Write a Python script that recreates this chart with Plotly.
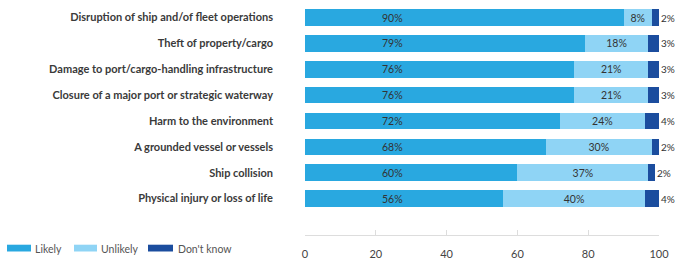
import plotly.graph_objects as go

categories = [
    "Disruption of ship and/of fleet operations",
    "Theft of property/cargo",
    "Damage to port/cargo-handling infrastructure",
    "Closure of a major port or strategic waterway",
    "Harm to the environment",
    "A grounded vessel or vessels",
    "Ship collision",
    "Physical injury or loss of life",
]
likely = [90, 79, 76, 76, 72, 68, 60, 56]
unlikely = [8, 18, 21, 21, 24, 30, 37, 40]
dont_know = [2, 3, 3, 3, 4, 2, 2, 4]
series_names = ["Likely", "Unlikely", "Don't know"]
x_ticks = [0, 20, 40, 60, 80, 100]

colors = ["#29a8e0", "#8fd4f5", "#1b4d9e"]
text_color = "#333333"
FONT = "Lato"

# plot geometry (pixels)
W, H = 677, 265
L, R, T, B = 305, 18, 5, 23
pw, ph = W - L - R, H - T - B
row0, row_step = 18.0, 26.64

def px_x(p):
    return (p - L) / pw

def px_y(p):
    return (H - B - p) / ph

y_top = (T - row0) / row_step
y_bot = (H - B - row0) / row_step

fig = go.Figure()
fig.add_trace(go.Bar(
    y=categories, x=likely, name=series_names[0], orientation="h",
    marker=dict(color=colors[0], line=dict(width=0)), showlegend=False,
))
fig.add_trace(go.Bar(
    y=categories, x=unlikely, name=series_names[1], orientation="h",
    marker=dict(color=colors[1], line=dict(width=0)), showlegend=False,
    text=[f"{v}%" for v in unlikely], textposition="inside",
    insidetextanchor="middle", textangle=0, constraintext="none",
    textfont=dict(family=FONT, size=10.5, color=text_color),
))
fig.add_trace(go.Bar(
    y=categories, x=dont_know, name=series_names[2], orientation="h",
    marker=dict(color=colors[2], line=dict(width=0)), showlegend=False,
))

annotations = []
for c, a, b, d in zip(categories, likely, unlikely, dont_know):
    annotations.append(dict(
        x=24.7, y=c, xref="x", yref="y", text=f"{a}%", showarrow=False,
        font=dict(family=FONT, size=10.5, color=text_color),
    ))
    annotations.append(dict(
        x=a + b + d, y=c, xref="x", yref="y", text=f"{d}%", showarrow=False,
        xanchor="left", xshift=0,
        font=dict(family=FONT, size=10, color=text_color),
    ))

# custom legend (wide swatches)
shapes = []
legend_items = [(7, 31, 33), (74, 97, 99), (148, 173, 176)]
for (x0, x1, tx), name, col in zip(legend_items, series_names, colors):
    shapes.append(dict(
        type="rect", xref="paper", yref="paper",
        x0=px_x(x0), x1=px_x(x1), y0=px_y(259), y1=px_y(252),
        fillcolor=col, line=dict(width=0),
    ))
    annotations.append(dict(
        x=px_x(tx), y=px_y(256), xref="paper", yref="paper",
        xanchor="left", yanchor="middle", text=name, showarrow=False,
        font=dict(family=FONT, size=10.5, color="#555555"),
    ))

fig.update_layout(
    width=W, height=H, barmode="stack", bargap=0.36,
    margin=dict(l=L, r=R, t=T, b=B, pad=0),
    paper_bgcolor="white", plot_bgcolor="white",
    font=dict(family=FONT, color=text_color),
    annotations=annotations, shapes=shapes,
    xaxis=dict(
        range=[0, 100], tickvals=x_ticks, showgrid=False, zeroline=False,
        showline=True, linecolor="#dddddd", linewidth=1,
        ticks="inside", ticklen=5, tickcolor="#dddddd",
        tickfont=dict(family=FONT, size=11, color="#444444"),
        ticklabelstandoff=9,
    ),
    yaxis=dict(
        categoryorder="array", categoryarray=categories,
        range=[y_bot, y_top], showgrid=False, zeroline=False, showline=False,
        ticks="", ticklabelstandoff=31,
        tickfont=dict(family=FONT, size=11, color="#3a3a3a", weight=700),
    ),
)

fig.write_html(
    "out.html",
    config={"displayModeBar": False},
    post_script="document.body.style.margin='0';document.body.style.overflow='hidden';",
)
